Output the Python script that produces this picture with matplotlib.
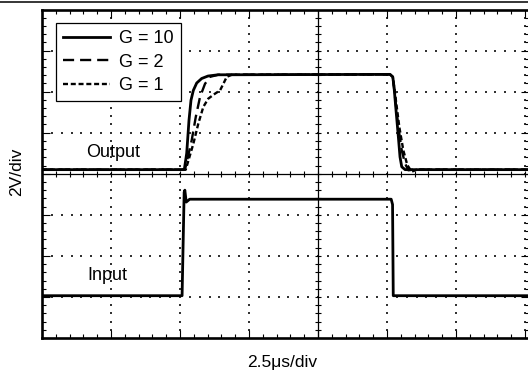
import numpy as np
import matplotlib
matplotlib.use("Agg")
import matplotlib.pyplot as plt
from matplotlib.lines import Line2D

plt.rcParams['font.family'] = ['Liberation Sans', 'DejaVu Sans']
plt.rcParams['lines.scale_dashes'] = False

# ---- data (divisions) ----
input_t = [0.0, 2.03, 2.06, 2.07, 2.09, 2.14, 5.06, 5.08, 5.09, 7.05]
input_v = [-2.97, -2.97, -0.45, -0.40, -0.69, -0.62, -0.62, -0.75, -2.97, -2.97]

g10_t = [0.0, 2.062, 2.097, 2.130, 2.159, 2.193, 2.242, 2.314, 2.406, 2.551, 5.043,
         5.083, 5.101, 5.130, 5.164, 5.188, 5.213, 5.261, 7.05]
g10_v = [0.10, 0.10, 0.50, 1.30, 1.79, 2.03, 2.21, 2.32, 2.38, 2.41, 2.42,
         2.36, 2.12, 1.55, 0.90, 0.41, 0.17, 0.10, 0.10]

g2_t = [0.0, 2.072, 2.17, 2.228, 2.29, 2.362, 2.435, 2.55, 5.043,
        5.083, 5.116, 5.164, 5.213, 5.261, 5.309, 5.38, 7.05]
g2_v = [0.10, 0.10, 0.82, 1.38, 1.87, 2.19, 2.36, 2.41, 2.42,
        2.36, 1.87, 1.14, 0.57, 0.25, 0.085, 0.10, 0.10]

g1_t = [0.0, 2.083, 2.193, 2.265, 2.338, 2.41, 2.507, 2.58, 2.628, 2.677, 2.749, 5.043,
        5.083, 5.116, 5.178, 5.236, 5.294, 5.358, 5.43, 7.05]
g1_v = [0.10, 0.10, 0.73, 1.22, 1.63, 1.83, 1.95, 2.03, 2.19, 2.36, 2.41, 2.42,
        2.36, 1.95, 1.14, 0.57, 0.21, 0.05, 0.10, 0.10]

labels = ["G = 10", "G = 2", "G = 1"]

W, H = 528, 375
fig = plt.figure(figsize=(W / 100, H / 100), dpi=100)
ax = fig.add_axes([42 / W, 37 / H, 486.5 / W, 328.5 / H])
XMAX = 7.05
ax.set_xlim(0, XMAX)
ax.set_ylim(-4, 4)

# frame
for s in ['left', 'top', 'bottom']:
    ax.spines[s].set_linewidth(1.9)
ax.spines['right'].set_visible(False)
ax.xaxis.set_major_locator(matplotlib.ticker.MultipleLocator(1))
ax.xaxis.set_minor_locator(matplotlib.ticker.MultipleLocator(0.2))
ax.yaxis.set_major_locator(matplotlib.ticker.MultipleLocator(1))
ax.yaxis.set_minor_locator(matplotlib.ticker.MultipleLocator(0.2))
ax.tick_params(which='both', direction='in', top=True, bottom=True, left=True, right=True,
               labelbottom=False, labelleft=False, width=0.8, color='black')
ax.tick_params(which='major', length=5.5)
ax.tick_params(which='minor', length=3.2)

# grid dots
dot_kw = dict(marker='s', s=1.2, color='#333333', linewidths=0, zorder=1)
for gy in [-3, -2, -1, 1, 2, 3]:
    xs = np.arange(1 / 7, XMAX, 1 / 7)
    ax.scatter(xs, np.full_like(xs, gy), **dot_kw)
for gx in [1, 2, 3, 5, 6, 7]:
    ys = np.arange(-4 + 0.2, 4, 0.2)
    ax.scatter(np.full_like(ys, gx), ys, **dot_kw)

# crosshair with ticks
ax.axhline(0, color='black', lw=0.9, zorder=2)
ax.axvline(4, color='black', lw=0.9, zorder=2)
tx = np.arange(0.2, XMAX, 0.2)
ax.plot(tx, np.zeros_like(tx), ls='none', marker='|', ms=5, mew=0.8, color='black', zorder=2)
ty = np.arange(-3.8, 4, 0.2)
ax.plot(np.full_like(ty, 4), ty, ls='none', marker='_', ms=5, mew=0.8, color='black', zorder=2)

# traces
ax.plot(input_t, input_v, color='black', lw=2.0, zorder=5, solid_joinstyle='round')
l1, = ax.plot(g1_t, g1_v, color='black', lw=1.7, ls=(0, (3.6, 2.0)), zorder=4, label=labels[2])
l2, = ax.plot(g2_t, g2_v, color='black', lw=1.7, ls=(0, (8.0, 4.3)), zorder=4, label=labels[1])
l10, = ax.plot(g10_t, g10_v, color='black', lw=2.0, zorder=5, label=labels[0],
               solid_joinstyle='round')

leg = ax.legend([l10, l2, l1], labels, loc='upper left',
                bbox_to_anchor=(56 / W, 1 - 23 / H), bbox_transform=fig.transFigure,
                fontsize=13, frameon=True, fancybox=False, framealpha=1,
                edgecolor='black', borderpad=0.4, handlelength=2.6,
                handletextpad=0.5, labelspacing=0.35, borderaxespad=0)
leg.get_frame().set_linewidth(0.9)
leg.set_zorder(10)

# labels
fig.text(113 / W, 1 - 153 / H, "Output", ha='center', va='center', fontsize=13)
fig.text(107 / W, 1 - 275 / H, "Input", ha='center', va='center', fontsize=13)
fig.text(17 / W, 1 - 172 / H, "2V/div", ha='center', va='center', rotation=90, fontsize=12.5)
fig.text(282 / W, 1 - 362 / H, "2.5\u03bcs/div", ha='center', va='center', fontsize=12.5)

# top rule
fig.add_artist(Line2D([0, 1], [1 - 2 / H, 1 - 2 / H], transform=fig.transFigure,
                      color='black', lw=1.1))

fig.savefig("out.png", dpi=100)
